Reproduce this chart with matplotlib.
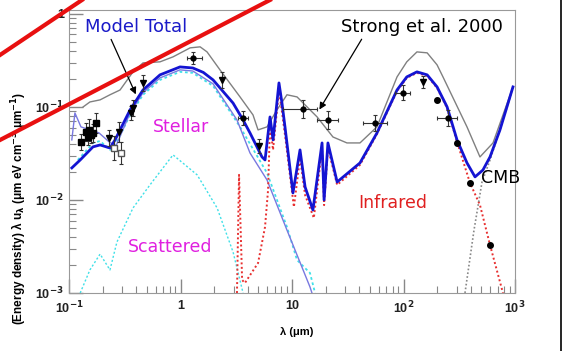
import numpy as np
import matplotlib.pyplot as plt
from matplotlib.lines import Line2D

plt.rcParams['font.family'] = ['Liberation Sans', 'DejaVu Sans']
plt.rcParams['mathtext.default'] = 'bf'

# model total (thick blue)
total_lam = [0.106, 0.126, 0.164, 0.190, 0.233, 0.259, 0.353, 0.461, 0.655, 0.99, 1.29, 1.6, 1.96, 2.96,
             3.64, 4.20, 5.38, 5.73, 6.35, 6.76, 7.64, 8.13, 8.65, 10.2, 11.8, 13.1, 15.4, 18.6, 19.4,
             21.0, 25.4, 40.7, 57.8, 87.5, 107, 132, 163, 200, 246, 302, 371, 438, 516, 597, 733, 959]
total_u = [0.0221, 0.0269, 0.0372, 0.039, 0.0362, 0.0442, 0.0929, 0.152, 0.221, 0.269, 0.262, 0.235, 0.195,
           0.110, 0.0724, 0.0525, 0.029, 0.0269, 0.078, 0.0442, 0.181, 0.110, 0.061, 0.0119, 0.0345, 0.0138,
           0.0078, 0.041, 0.010, 0.041, 0.0156, 0.025, 0.0525, 0.152, 0.21, 0.238, 0.221, 0.164, 0.100,
           0.0442, 0.025, 0.0177, 0.021, 0.029, 0.0566, 0.164]

# stellar, thin line
stellar_lam = [0.106, 0.113, 0.128, 0.154, 0.186, 0.229, 0.264, 0.353, 0.461, 0.655, 0.99, 1.29, 1.96,
               3.21, 4.20, 5.97, 9.01, 14.5, 15.1]
stellar_u = [0.0442, 0.0861, 0.061, 0.0566, 0.0525, 0.0421, 0.0381, 0.0861, 0.142, 0.205, 0.25, 0.243, 0.177,
             0.0724, 0.032, 0.0164, 0.00475, 0.00116, 0.001]

# direct stellar (cyan dotted)
direct_lam = [0.12, 0.164, 0.19, 0.233, 0.275, 0.353, 0.461, 0.655, 0.99, 1.29, 1.96, 3.42, 5.97, 9.01,
              11.1, 14.5, 16.1]
direct_u = [0.0269, 0.041, 0.043, 0.0345, 0.0442, 0.082, 0.135, 0.195, 0.238, 0.232, 0.168, 0.061, 0.0195,
            0.00513, 0.00226, 0.00164, 0.001]

# scattered
scat_lam = [0.126, 0.154, 0.190, 0.233, 0.269, 0.375, 0.532, 0.857, 1.41, 2.13, 2.96, 3.64]
scat_u = [0.001, 0.00177, 0.00262, 0.00177, 0.00353, 0.0082, 0.0145, 0.0305, 0.0186, 0.0082, 0.00276, 0.001]

# infrared (dust)
ir_lam = [3.21, 3.35, 3.57, 3.78, 4.96, 5.73, 6.1, 6.35, 6.76, 7.64, 8.13, 8.65, 10.4, 11.8, 13.1, 15.7,
          18.6, 19.4, 21.0, 25.4, 40.7, 57.8, 87.5, 107, 132, 163, 200, 246, 302, 395, 485, 597, 780]
ir_u = [0.001, 0.0186, 0.00138, 0.00128, 0.0021, 0.00513, 0.0128, 0.064, 0.0345, 0.152, 0.0883, 0.050,
        0.0084, 0.0283, 0.0113, 0.0064, 0.0362, 0.0088, 0.0362, 0.0145, 0.0238, 0.051, 0.148, 0.205, 0.232,
        0.215, 0.16, 0.0975, 0.0421, 0.0152, 0.00883, 0.00328, 0.001]

# CMB
cmb_lam = [356, 429, 506, 597, 733, 959]
cmb_u = [0.001, 0.00475, 0.0156, 0.0269, 0.0566, 0.16]

# Strong et al. 2000
strong_lam = [0.134, 0.154, 0.190, 0.233, 0.287, 0.375, 0.461, 0.655, 0.857, 1.22, 1.50, 1.73, 2.26, 3.42,
              4.47, 4.96, 5.97, 7.33, 9.01, 11.1, 16.8, 23.3, 31.1, 40.7, 57.8, 87.5, 107, 132, 163, 200,
              226, 371, 485, 635, 959]
strong_u = [0.100, 0.113, 0.119, 0.135, 0.152, 0.238, 0.297, 0.305, 0.345, 0.431, 0.442, 0.390, 0.250, 0.128,
            0.082, 0.0566, 0.061, 0.0929, 0.135, 0.128, 0.078, 0.0475, 0.041, 0.041, 0.061, 0.210, 0.305,
            0.390, 0.381, 0.283, 0.210, 0.061, 0.029, 0.041, 0.164]

# measurements: filled squares at short wavelength
sq_lam = [0.128, 0.142, 0.148, 0.151, 0.157, 0.164, 0.175]
sq_u = [0.0421, 0.0538, 0.0475, 0.0566, 0.050, 0.0525, 0.0673]
sq_fac = [1.22, 1.25, 1.22, 1.3, 1.22, 1.25, 1.28]

# open squares
open_lam = [0.254, 0.292]
open_u = [0.0362, 0.032]
open_fac = [1.35, 1.31]

# points with y errors only
pt_lam = [0.229, 0.281, 0.360, 0.375, 0.461, 2.36, 5.06, 150]
pt_u = [0.0464, 0.0538, 0.0861, 0.0975, 0.181, 0.195, 0.0381, 0.186]
pt_fac = [1.22, 1.28, 1.2, 1.22, 1.22, 1.22, 1.19, 1.16]

# points with x and y errors
bx_lam = [1.29, 3.64, 12.6, 21.0, 55.5, 99, 251]
bx_lo = [1.14, 3.3, 8.3, 16.8, 43.4, 84, 200]
bx_hi = [1.56, 4.0, 16.8, 25.9, 71.1, 114, 302]
bx_u = [0.336, 0.0762, 0.0951, 0.0724, 0.0673, 0.142, 0.0762]
bx_fac = [1.16, 1.19, 1.25, 1.25, 1.22, 1.2, 1.23]

# points without error bars
dot_lam = [200, 302, 395, 597]
dot_u = [0.119, 0.041, 0.0152, 0.00328]

xticks = [0.1, 1, 10, 100, 1000]
xtick_labels = ['10$^{-1}$', '1', '10', '10$^{2}$', '10$^{3}$']
yticks = [1e-3, 1e-2, 1e-1, 1]
ytick_labels = ['10$^{-3}$', '10$^{-2}$', '10$^{-1}$', '1']

fig = plt.figure(figsize=(5.62, 3.51), dpi=100)
ax = fig.add_axes([69 / 562, 58 / 351, 446 / 562, 283 / 351])
ax.set_xscale('log')
ax.set_yscale('log')
ax.set_xlim(0.1, 1000)
ax.set_ylim(1e-3, 1.1)

ax.plot(strong_lam, strong_u, color='#808080', lw=1.0)
ax.plot(scat_lam, scat_u, color='#40e0e8', lw=1.0, ls=(0, (1.5, 1.5)))
ax.plot(direct_lam, direct_u, color='#40e0e8', lw=1.3, ls=(0, (1.5, 1.5)))
ax.plot(stellar_lam, stellar_u, color='#7878e0', lw=1.0)
ax.plot(ir_lam, ir_u, color='#e83030', lw=1.4, ls=(0, (1, 1.3)))
ax.plot(cmb_lam, cmb_u, color='#888888', lw=1.2, ls=(0, (1, 1.3)))
ax.plot(total_lam, total_u, color='#1414d2', lw=2.0)

ek = dict(ecolor='#333333', elinewidth=0.8, capsize=1.5, capthick=0.8, zorder=5)
sq_u = np.array(sq_u)
ax.errorbar(sq_lam, sq_u, yerr=[sq_u - sq_u / np.array(sq_fac), sq_u * np.array(sq_fac) - sq_u],
            fmt='s', ms=4, color='black', **ek)
open_u = np.array(open_u)
ax.errorbar(open_lam, open_u, yerr=[open_u - open_u / np.array(open_fac), open_u * np.array(open_fac) - open_u],
            fmt='s', ms=4, mfc='white', mec='#555555', **ek)
pt_u = np.array(pt_u)
ax.errorbar(pt_lam, pt_u, yerr=[pt_u - pt_u / np.array(pt_fac), pt_u * np.array(pt_fac) - pt_u],
            fmt='v', ms=4, color='black', **ek)
bx_u = np.array(bx_u)
bx_lam = np.array(bx_lam)
ax.errorbar(bx_lam, bx_u, yerr=[bx_u - bx_u / np.array(bx_fac), bx_u * np.array(bx_fac) - bx_u],
            xerr=[bx_lam - np.array(bx_lo), np.array(bx_hi) - bx_lam],
            fmt='o', ms=3.5, color='black', **ek)
ax.plot(dot_lam, dot_u, 'o', ms=4, color='black', zorder=5)

for s in ax.spines.values():
    s.set_color('#999999')
ax.set_xticks(xticks)
ax.set_xticklabels(xtick_labels)
ax.set_yticks(yticks)
ax.set_yticklabels(ytick_labels)
ax.tick_params(which='both', direction='in', color='#888888', top=False, right=False,
               labelsize=9, labelcolor='#222222')
ax.tick_params(which='major', length=10, width=1)
ax.tick_params(which='minor', length=5, width=0.8)
ax.tick_params(axis='x', pad=5)
for lab in ax.get_xticklabels() + ax.get_yticklabels():
    lab.set_fontweight('bold')

ax.set_xlabel('λ (μm)', fontsize=8, fontweight='bold', labelpad=2)
ax.xaxis.set_label_coords(0.51, -0.12)
ax.set_ylabel('(Energy density) λ u$_λ$ (μm eV cm$^{-3}$ μm$^{-1}$)', fontsize=8.5, fontweight='bold')
ax.yaxis.set_label_coords(-0.09, 0.30)

tf = ['DejaVu Sans']
ax.text(0.40, 0.72, 'Model Total', color='#1a1ac8', fontsize=13, ha='center', va='center', family=tf)
ax.annotate('', xy=(0.407, 0.128), xytext=(0.233, 0.566),
            arrowprops=dict(arrowstyle='-|>', color='black', lw=0.9, mutation_scale=10))
ax.text(146, 0.72, 'Strong et al. 2000', color='black', fontsize=13, ha='center', va='center', family=tf)
ax.annotate('', xy=(17.1, 0.0883), xytext=(43.4, 0.566),
            arrowprops=dict(arrowstyle='-|>', color='black', lw=0.9, mutation_scale=10))
ax.text(1.01, 0.061, 'Stellar', color='#e020e0', fontsize=12.5, ha='center', va='center', family=tf)
ax.text(0.80, 0.00313, 'Scattered', color='#e020e0', fontsize=12.5, ha='center', va='center', family=tf)
ax.text(80.5, 0.0093, 'Infrared', color='#e02020', fontsize=12.5, ha='center', va='center', family=tf)
ax.text(495, 0.0173, 'CMB', color='black', fontsize=12.5, ha='left', va='center', family=tf)

# red strokes over the picture and the page edge
fig.add_artist(Line2D([0, 82 / 562], [1 - 55 / 351, 1], color='#e81010', lw=3, zorder=20))
fig.add_artist(Line2D([0, 270 / 562], [1 - 140 / 351, 1], color='#e81010', lw=3, zorder=20))
fig.add_artist(Line2D([561 / 562, 561 / 562], [0, 1], color='black', lw=1.2))

fig.savefig('out.png', dpi=100)
